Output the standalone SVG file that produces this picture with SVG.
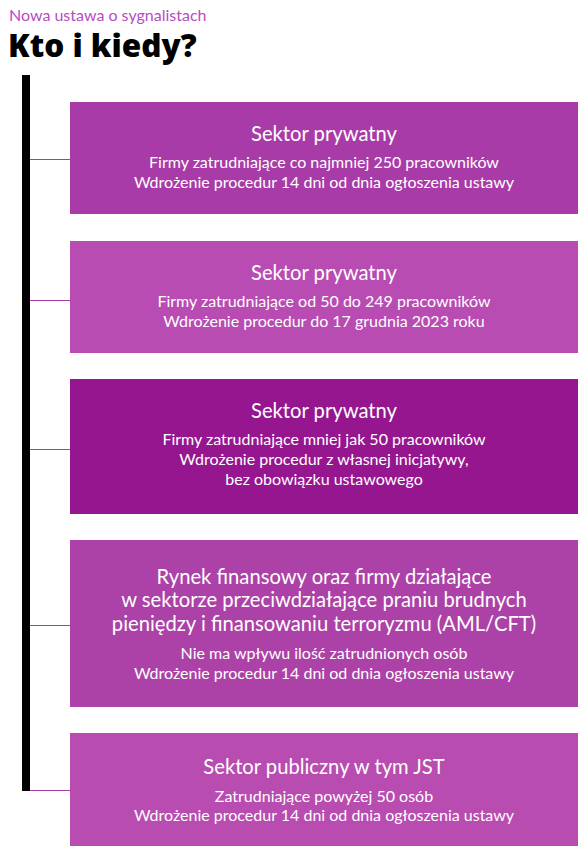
<svg xmlns="http://www.w3.org/2000/svg" width="584" height="853" viewBox="0 0 584 853">
<style>
.t{font-family:Lato,"Open Sans","Liberation Sans",sans-serif;fill:#fff;text-anchor:middle}
.h{font-size:20.2px}
.b{font-size:16px}
.c{stroke:#a93ba8;stroke-width:1;fill:none}
</style>
<rect width="584" height="853" fill="#fff"/>
<text x="9" y="21" font-family="Lato,'Open Sans',sans-serif" font-size="16" fill="#b84cc0">Nowa ustawa o sygnalistach</text>
<text x="8" y="57" font-family="'Open Sans',Lato,sans-serif" font-weight="800" font-size="31.5" fill="#000">Kto i kiedy?</text>
<g id="connectors">
<rect x="22" y="75" width="8" height="716" fill="#000"/>
<line class="c" x1="30" y1="159.5" x2="70" y2="159.5"/>
<line class="c" x1="30" y1="300.5" x2="70" y2="300.5"/>
<line class="c" x1="30" y1="449.5" x2="70" y2="449.5"/>
<line class="c" x1="30" y1="625.5" x2="70" y2="625.5"/>
<line class="c" x1="30" y1="790.5" x2="70" y2="790.5"/>
</g>
<g id="n1">
<rect x="70" y="102" width="508" height="112" fill="#a93ba8"/>
<text class="t h" x="324" y="141">Sektor prywatny</text>
<text class="t b" x="324" y="168">Firmy zatrudniające co najmniej 250 pracowników</text>
<text class="t b" x="324" y="188">Wdrożenie procedur 14 dni od dnia ogłoszenia ustawy</text>
</g>
<g id="n2">
<rect x="70" y="241" width="508" height="112" fill="#b84cb3"/>
<text class="t h" x="324" y="280">Sektor prywatny</text>
<text class="t b" x="324" y="307">Firmy zatrudniające od 50 do 249 pracowników</text>
<text class="t b" x="324" y="327">Wdrożenie procedur do 17 grudnia 2023 roku</text>
</g>
<g id="n3">
<rect x="70" y="379" width="508" height="135" fill="#96168f"/>
<text class="t h" x="324" y="418">Sektor prywatny</text>
<text class="t b" x="324" y="445">Firmy zatrudniające mniej jak 50 pracowników</text>
<text class="t b" x="324" y="465">Wdrożenie procedur z własnej inicjatywy,</text>
<text class="t b" x="324" y="485">bez obowiązku ustawowego</text>
</g>
<g id="n4">
<rect x="70" y="540" width="508" height="167" fill="#ac42a7"/>
<text class="t h" x="324" y="584">Rynek finansowy oraz firmy działające</text>
<text class="t h" x="324" y="607">w sektorze przeciwdziałające praniu brudnych</text>
<text class="t h" x="324" y="631">pieniędzy i finansowaniu terroryzmu (AML/CFT)</text>
<text class="t b" x="324" y="659">Nie ma wpływu ilość zatrudnionych osób</text>
<text class="t b" x="324" y="679">Wdrożenie procedur 14 dni od dnia ogłoszenia ustawy</text>
</g>
<g id="n5">
<rect x="70" y="733" width="508" height="113" fill="#b84cb0"/>
<text class="t h" x="324" y="774">Sektor publiczny w tym JST</text>
<text class="t b" x="324" y="802">Zatrudniające powyżej 50 osób</text>
<text class="t b" x="324" y="821">Wdrożenie procedur 14 dni od dnia ogłoszenia ustawy</text>
</g>
</svg>
